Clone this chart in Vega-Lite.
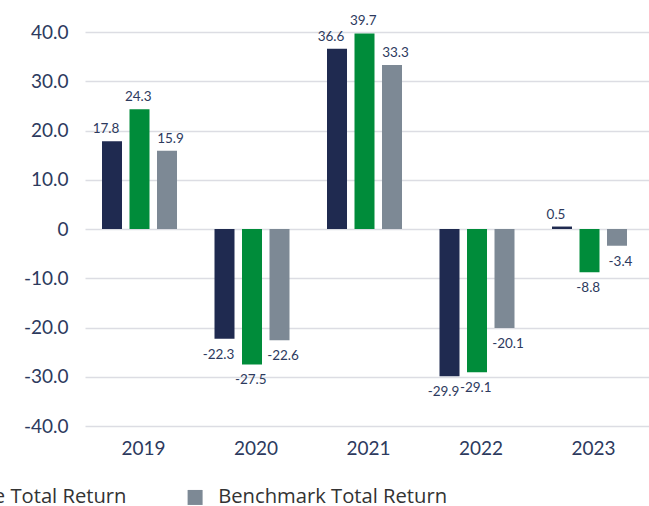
{
  "$schema": "https://vega.github.io/schema/vega-lite/v6.json",
  "width": 564,
  "height": 394,
  "autosize": {"type": "none"},
  "padding": {"left": 85, "top": 32, "right": 0, "bottom": 80},
  "background": "white",
  "config": {
    "locale": {"number": {"decimal": ".", "thousands": ",", "grouping": [3], "currency": ["$", ""], "minus": "-"}},
    "view": {"stroke": null},
    "font": "Lato",
    "axis": {"domain": false, "ticks": false, "tickSize": 0, "labelFont": "Lato", "labelColor": "#2d3a5e", "labelFontSize": 19, "gridColor": "#dcdde3", "gridWidth": 1.5}
  },
  "data": {"values": [
    {"year": "2019", "series": "NAV Total Return", "value": 17.8},
    {"year": "2019", "series": "Share Price Total Return", "value": 24.3},
    {"year": "2019", "series": "Benchmark Total Return", "value": 15.9},
    {"year": "2020", "series": "NAV Total Return", "value": -22.3},
    {"year": "2020", "series": "Share Price Total Return", "value": -27.5},
    {"year": "2020", "series": "Benchmark Total Return", "value": -22.6},
    {"year": "2021", "series": "NAV Total Return", "value": 36.6},
    {"year": "2021", "series": "Share Price Total Return", "value": 39.7},
    {"year": "2021", "series": "Benchmark Total Return", "value": 33.3},
    {"year": "2022", "series": "NAV Total Return", "value": -29.9},
    {"year": "2022", "series": "Share Price Total Return", "value": -29.1},
    {"year": "2022", "series": "Benchmark Total Return", "value": -20.1},
    {"year": "2023", "series": "NAV Total Return", "value": 0.5},
    {"year": "2023", "series": "Share Price Total Return", "value": -8.8},
    {"year": "2023", "series": "Benchmark Total Return", "value": -3.4}
  ]},
  "encoding": {
    "x": {"field": "year", "type": "nominal", "title": null,
      "scale": {"paddingInner": 0.3333, "paddingOuter": 0.1733, "align": 0.436},
      "axis": {"labelAngle": 0, "labelPadding": 13, "labelOffset": 4, "grid": false}},
    "y": {"field": "value", "type": "quantitative", "title": null,
      "scale": {"domain": [-40, 40], "nice": false, "zero": false},
      "axis": {"values": [-40, -30, -20, -10, 0, 10, 20, 30, 40], "labelPadding": 17, "grid": true,
        "labelExpr": "datum.value == 0 ? '0' : replace(format(datum.value, '.1f'), '\u2212', '-')"}}
  },
  "layer": [
    {
      "mark": {"type": "bar"},
      "encoding": {
        "xOffset": {"field": "series", "type": "nominal", "sort": ["NAV Total Return", "Share Price Total Return", "Benchmark Total Return"],
          "scale": {"paddingInner": 0.2727, "paddingOuter": 0}},
        "color": {"field": "series", "type": "nominal", "title": null,
          "sort": ["NAV Total Return", "Share Price Total Return", "Benchmark Total Return"],
          "scale": {"domain": ["NAV Total Return", "Share Price Total Return", "Benchmark Total Return"], "range": ["#1f2a50", "#008c3a", "#7d8995"]},
          "legend": {"orient": "none", "direction": "horizontal", "legendX": -472, "legendY": 455,
            "symbolType": "square", "symbolSize": 225, "symbolStrokeWidth": 0, "labelFont": "Open Sans", "labelFontSize": 20.2, "labelColor": "#333333",
            "labelOffset": 13, "columnPadding": 58, "labelLimit": 400,
            "encode": {"symbols": {"update": {"fill": [{"test": "datum.value === 'Benchmark Total Return'", "value": "#9b98b0"}, {"scale": "color", "field": "value"}], "opacity": {"value": 1}}}}}}
      }
    },
    {
      "layer": [
        {
          "transform": [{"filter": "datum.value >= 0"}],
          "mark": {"type": "text", "baseline": "alphabetic", "dy": -8, "fontSize": 13.5, "color": "#2d3a5e"},
          "encoding": {"text": {"field": "value", "type": "quantitative", "format": ".1f"}}
        },
        {
          "transform": [{"filter": "datum.value < 0"}],
          "mark": {"type": "text", "baseline": "top", "dy": 9, "fontSize": 13.5, "color": "#2d3a5e"},
          "encoding": {"text": {"field": "value", "type": "quantitative", "format": ".1f"}}
        }
      ],
      "encoding": {
        "xOffset": {"field": "series", "type": "nominal", "sort": ["NAV Total Return", "Share Price Total Return", "Benchmark Total Return"],
          "scale": {"range": [4, 68.5], "padding": 0}}
      }
    }
  ],
  "resolve": {"scale": {"xOffset": "independent"}}
}
